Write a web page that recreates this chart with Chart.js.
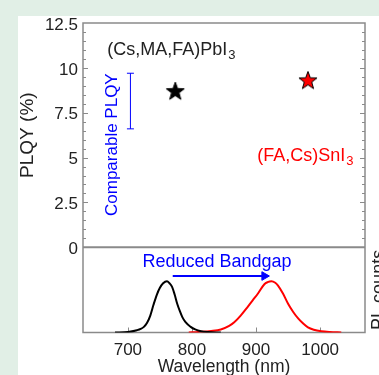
<!DOCTYPE html>
<html>
<head>
<meta charset="utf-8">
<script src="https://cdn.jsdelivr.net/npm/chart.js@4.4.0/dist/chart.umd.min.js"></script>
<style>
  html, body { margin: 0; padding: 0; background: #e1efe6; }
  body { width: 379px; height: 375px; position: relative; overflow: hidden; }
  #wrap { position: absolute; left: 18px; top: 16px; width: 361px; height: 359px; background: #fff; }
</style>
</head>
<body>
<div id="wrap"><canvas id="chartContainer" width="361" height="359"></canvas></div>
<script>
// axis ticks
var xTicks = [700, 800, 900, 1000];
var yTicks = [0, 2.5, 5, 7.5, 10, 12.5];

// PLQY points (wavelength, %)
var pbWavelength = [774];
var pbPlqy = [8.7];
var snWavelength = [981];
var snPlqy = [9.3];

// "comparable PLQY" range bar
var errWavelength = [704, 704];
var errPlqy = [6.6, 9.7];

// normalised PL spectra
var pbPlX = [680, 700, 714, 720, 725, 730, 735, 740, 745, 750, 755, 761, 765, 769, 773, 777, 781, 785, 790, 798, 805, 814, 825, 845];
var pbPlY = [0, 0.01, 0.045, 0.07, 0.11, 0.19, 0.33, 0.54, 0.73, 0.87, 0.96, 1.0, 0.96, 0.89, 0.74, 0.56, 0.42, 0.30, 0.2, 0.11, 0.06, 0.025, 0.008, 0];
var snPlX = [795, 810, 830, 845, 858, 866, 876, 887, 895, 903, 913, 918, 924, 930, 934, 942, 950, 958, 966, 974, 981, 990, 1002, 1015, 1033];
var snPlY = [0, 0.01, 0.03, 0.06, 0.13, 0.2, 0.33, 0.5, 0.63, 0.76, 0.94, 0.98, 1.0, 0.97, 0.92, 0.76, 0.56, 0.4, 0.27, 0.17, 0.1, 0.055, 0.025, 0.01, 0];

// bandgap arrow
var arrowX = [770, 913];
var arrowY = [1.1, 1.1];

var FONT = "'Liberation Sans', Arial, sans-serif";

function pts(xs, ys) {
    return xs.map(function (x, i) { return { x: x, y: ys[i] }; });
}

function makeStar(fill, stroke) {
    var c = document.createElement('canvas');
    c.width = 22; c.height = 22;
    var g = c.getContext('2d');
    g.beginPath();
    for (var i = 0; i < 10; i++) {
        var r = i % 2 === 0 ? 9.5 : 3.9;
        var a = -Math.PI / 2 + i * Math.PI / 5;
        var px = 11 + r * Math.cos(a), py = 11.5 + r * Math.sin(a);
        if (i === 0) g.moveTo(px, py); else g.lineTo(px, py);
    }
    g.closePath();
    g.fillStyle = fill;
    g.fill();
    g.lineWidth = 1;
    g.strokeStyle = stroke;
    g.stroke();
    return c;
}

function drawSub(ctx, main, sub, x, y, color, size) {
    ctx.fillStyle = color;
    ctx.font = size + 'px ' + FONT;
    ctx.textAlign = 'left';
    ctx.textBaseline = 'middle';
    ctx.fillText(main, x, y);
    var w = ctx.measureText(main).width;
    ctx.font = Math.round(size * 0.7) + 'px ' + FONT;
    ctx.fillText(sub, x + w + 1, y + 6);
}

// frame, panel separator and inward ticks
var framePlugin = {
    id: 'panelFrame',
    beforeDraw: function (chart) {
        var c = chart.ctx, a = chart.chartArea;
        var x = chart.scales.x, y = chart.scales.y;
        c.save();
        c.strokeStyle = '#8a8a8a';
        c.lineWidth = 1.5;
        c.strokeRect(a.left, a.top, a.right - a.left, a.bottom - a.top);
        var y0 = y.getPixelForValue(0);
        c.lineWidth = 2;
        c.beginPath();
        c.moveTo(a.left, y0);
        c.lineTo(a.right, y0);
        c.stroke();
        c.lineWidth = 1;
        c.beginPath();
        for (var v = 0.5; v < 12.5; v += 0.5) {
            var len = Math.abs(v % 2.5) < 1e-6 ? 5 : 3;
            var py = Math.round(y.getPixelForValue(v)) + 0.5;
            c.moveTo(a.left, py); c.lineTo(a.left + len, py);
            c.moveTo(a.right, py); c.lineTo(a.right - len, py);
        }
        xTicks.forEach(function (t) {
            var px = Math.round(x.getPixelForValue(t)) + 0.5;
            c.moveTo(px, a.bottom); c.lineTo(px, a.bottom - 5);
        });
        c.stroke();
        c.restore();
    },
    afterDraw: function (chart) {
        var c = chart.ctx, a = chart.chartArea;
        var x = chart.scales.x, y = chart.scales.y, yPL = chart.scales.yPL;
        c.save();
        drawSub(c, '(Cs,MA,FA)PbI', '3', x.getPixelForValue(668), y.getPixelForValue(11.0), '#222', 18);
        drawSub(c, '(FA,Cs)SnI', '3', x.getPixelForValue(902), y.getPixelForValue(5.1), '#ff0000', 18);

        c.fillStyle = '#0000ff';
        c.font = '18px ' + FONT;
        c.textAlign = 'center';
        c.textBaseline = 'middle';
        c.fillText('Reduced Bandgap', x.getPixelForValue(839), yPL.getPixelForValue(1.37));

        c.save();
        c.translate(x.getPixelForValue(675.5), y.getPixelForValue(5.72));
        c.rotate(-Math.PI / 2);
        c.font = '17px ' + FONT;
        c.fillText('Comparable PLQY', 0, 0);
        c.restore();

        c.save();
        c.translate(a.right + 14, (yPL.top + yPL.bottom) / 2);
        c.rotate(-Math.PI / 2);
        c.fillStyle = '#222';
        c.font = '18px ' + FONT;
        c.fillText('PL counts', 0, 0);
        c.restore();
        c.restore();
    }
};

function fixLeft(s) {
    s.width = 65;
    s.paddingTop = 0;
    s.paddingBottom = 0;
}

var ctx = document.getElementById('chartContainer').getContext('2d');
window.myChart = new Chart(ctx, {
    type: 'scatter',
    data: {
        datasets: [
            {
                data: pts(pbPlX, pbPlY), yAxisID: 'yPL', showLine: true,
                borderColor: '#000', borderWidth: 2, pointRadius: 0, cubicInterpolationMode: 'monotone'
            },
            {
                data: pts(snPlX, snPlY), yAxisID: 'yPL', showLine: true,
                borderColor: '#ff0000', borderWidth: 2, pointRadius: 0, cubicInterpolationMode: 'monotone'
            },
            {
                data: pts(arrowX, arrowY), yAxisID: 'yPL', showLine: true,
                borderColor: '#0000ff', backgroundColor: '#0000ff', borderWidth: 2,
                pointStyle: 'triangle', pointRotation: 90, pointRadius: [0, 5], pointBorderWidth: 1
            },
            {
                data: pts(errWavelength, errPlqy), yAxisID: 'y', showLine: true,
                borderColor: '#0000ff', borderWidth: 1, pointStyle: 'line', pointRadius: 3.5, pointBorderWidth: 1
            },
            {
                data: pts(pbWavelength, pbPlqy), yAxisID: 'y',
                pointStyle: makeStar('#000', '#000')
            },
            {
                data: pts(snWavelength, snPlqy), yAxisID: 'y',
                pointStyle: makeStar('#ff0000', '#000')
            }
        ]
    },
    options: {
        responsive: false,
        animation: false,
        layout: { padding: { top: 7, right: 14, left: 0, bottom: 0 } },
        plugins: { legend: { display: false }, tooltip: { enabled: false } },
        scales: {
            x: {
                type: 'linear', min: 630, max: 1070,
                afterBuildTicks: function (s) { s.ticks = xTicks.map(function (v) { return { value: v }; }); },
                afterFit: function (s) { s.height = 42.5; s.paddingLeft = 0; s.paddingRight = 0; },
                grid: { display: false, drawTicks: false },
                border: { display: false },
                ticks: { color: '#222', font: { size: 17, family: FONT }, padding: 8, maxRotation: 0, callback: function (v) { return String(v); } },
                title: { display: true, text: 'Wavelength (nm)', color: '#222', font: { size: 17.5, family: FONT, lineHeight: 1 }, padding: { top: 0, bottom: -1 } }
            },
            // left boxes are stacked in reverse order, so the PL panel is listed first
            yPL: {
                type: 'linear', position: 'left', stack: 'v', stackWeight: 85.5, min: 0, max: 1.66,
                afterFit: fixLeft,
                grid: { display: false, drawTicks: false },
                border: { display: false },
                ticks: { display: false }
            },
            y: {
                type: 'linear', position: 'left', stack: 'v', stackWeight: 225, min: 0, max: 12.5,
                afterBuildTicks: function (s) { s.ticks = yTicks.map(function (v) { return { value: v }; }); },
                afterFit: fixLeft,
                grid: { display: false, drawTicks: false },
                border: { display: false },
                ticks: { color: '#222', font: { size: 17, family: FONT }, padding: 5, labelOffset: 2, callback: function (v) { return String(v); } },
                title: { display: true, text: 'PLQY (%)', color: '#222', font: { size: 19, family: FONT, lineHeight: 1 }, padding: 0 }
            }
        }
    },
    plugins: [framePlugin]
});
</script>
</body>
</html>
